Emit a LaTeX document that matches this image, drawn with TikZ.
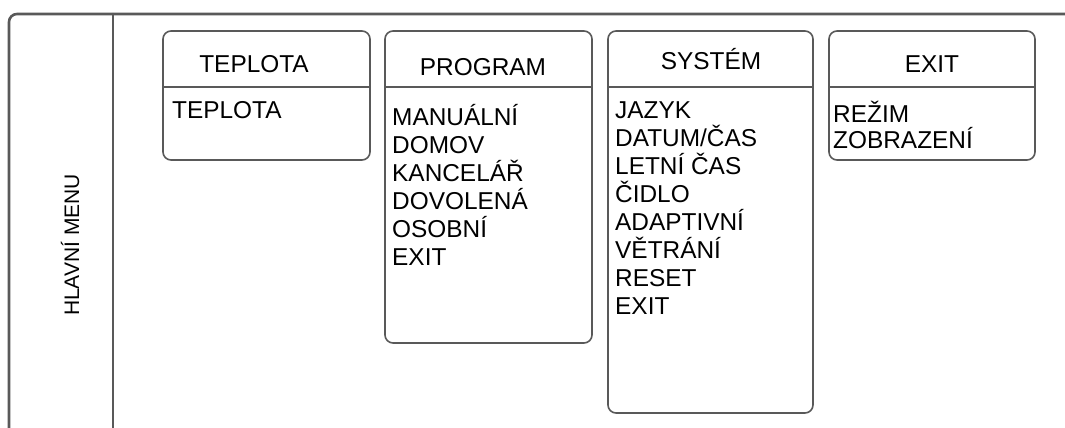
\documentclass[tikz,border=0pt]{standalone}
\usepackage{fontspec}
\setmainfont{Liberation Sans}
\usepackage{tikz}
\definecolor{linegray}{HTML}{595959}

\begin{document}
\begin{tikzpicture}[x=1pt,y=-1pt,line cap=round,
  frame/.style={draw=linegray,line width=2.6pt,rounded corners=8pt},
  menubox/.style={draw=linegray,line width=1.6pt,rounded corners=8pt},
  divider/.style={draw=linegray,line width=1.4pt},
  head/.style={anchor=base,inner sep=0pt,font=\fontsize{24.4}{28}\selectfont},
  item/.style={anchor=base west,inner sep=0pt,font=\fontsize{24.4}{28}\selectfont}]
\useasboundingbox (0,0) rectangle (1065,428);
% outer frame
\draw[frame] (9,440) -- (9,14) -- (1075,14);
\draw[linegray,line width=2.6pt] (113,14) -- (113,440);
\node[rotate=90,inner sep=0pt,font=\fontsize{21}{24}\selectfont] (main) at (70,245) {HLAVNÍ MENU};
% TEPLOTA
\draw[menubox] (163,31) rectangle (370,160);
\draw[divider] (163,87) -- (370,87);
\node[head] (tep) at (254,72) {TEPLOTA};
\node[item] (tep0) at (172,118) {TEPLOTA};
% PROGRAM
\draw[menubox] (385,31) rectangle (592,343);
\draw[divider] (385,87) -- (592,87);
\node[head] (prog) at (483,75) {PROGRAM};
\foreach \t [count=\i from 0] in {MANUÁLNÍ,DOMOV,KANCELÁŘ,DOVOLENÁ,OSOBNÍ,EXIT}
  \node[item] (prog\i) at (392,{125+28*\i}) {\t};
% SYSTEM
\draw[menubox] (608,31) rectangle (813,413);
\draw[divider] (608,87) -- (813,87);
\node[head] (sys) at (711,70) {SYSTÉM};
\foreach \t [count=\i from 0] in {JAZYK,DATUM/ČAS,LETNÍ ČAS,ČIDLO,ADAPTIVNÍ,VĚTRÁNÍ,RESET,EXIT}
  \node[item] (sys\i) at (615,{118+28.1*\i}) {\t};
% EXIT
\draw[menubox] (829,31) rectangle (1035,160);
\draw[divider] (829,87) -- (1035,87);
\node[head] (ex) at (932,73) {EXIT};
\node[item] (ex0) at (833,122) {REŽIM};
\node[item] (ex1) at (833,148) {ZOBRAZENÍ};
\end{tikzpicture}
\end{document}
